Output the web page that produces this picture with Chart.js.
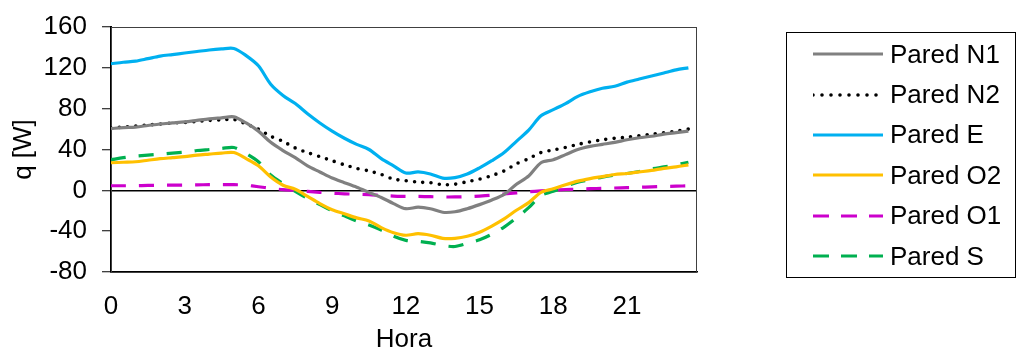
<!DOCTYPE html>
<html lang="es">
<head>
    <meta charset="UTF-8">
    <title>q [W] por hora</title>
    <script src="https://cdn.jsdelivr.net/npm/chart.js"></script>
    <style>
        body { margin: 0; background: #fff; }
        #wrap { position: relative; width: 1017px; height: 349px; }
        #legend {
            position: absolute; left: 786px; top: 32px; width: 228px; height: 243px;
            border: 1.5px solid #000; box-sizing: content-box;
            font-family: 'Liberation Sans', Arial, sans-serif; font-size: 26px; color: #000;
            padding-top: 1px;
        }
        #legend .row { display: flex; align-items: center; height: 40.4px; padding-left: 26px; }
        #legend svg { width: 70px; height: 8px; margin-right: 7px; flex: none; }
    </style>
</head>
<body>
    <div id="wrap">
        <canvas id="myChart"></canvas>
        <div id="legend"></div>
    </div>

    <script>
        // horas (cada media hora)
        const hours = [0, 0.5, 1, 1.5, 2, 2.5, 3, 3.5, 4, 4.5, 5, 5.5, 6, 6.5, 7, 7.5, 8, 8.5, 9, 9.5,
            10, 10.5, 11, 11.5, 12, 12.5, 13, 13.5, 14, 14.5, 15, 15.5, 16, 16.5, 17, 17.5, 18, 18.5, 19, 19.5,
            20, 20.5, 21, 21.5, 22, 22.5, 23, 23.5];

        const paredN1 = [60.5, 61.5, 62, 63.5, 65, 66, 67, 68.5, 70, 71, 72, 66, 58, 47, 39, 32, 24, 18, 12, 7.5,
            3, -2, -7, -13, -18, -16.5, -18, -21.5, -21, -18, -14, -9.5, -4, 6, 14, 27, 30, 35, 40, 43,
            45, 47, 49.5, 51.5, 53, 55, 56.5, 58];
        const paredN2 = [61, 62, 63, 64, 65, 66, 66.5, 67.5, 68.5, 69, 69.5, 65, 60, 53, 48, 41.5, 37, 33, 29, 25,
            21.5, 19, 15.5, 11, 9.5, 8, 7.5, 5.5, 6, 8.5, 11, 14.5, 19, 26, 31, 37, 39.5, 42, 45, 47.5,
            49.5, 51, 52, 53.5, 55, 56.5, 58, 60];
        const paredE = [124, 125.5, 126.5, 129, 131.5, 133, 134.5, 136, 137.5, 138.5, 139, 132, 122, 104, 93, 85, 75, 66, 58, 51,
            45, 40, 31, 24, 17, 18, 16, 12, 12.5, 16, 22, 29, 37, 48, 59, 73, 79, 85, 92, 96.5,
            100, 102, 106, 109, 112, 115, 118, 120];
        const paredO2 = [27, 27.5, 28, 29.5, 31, 32, 33, 34.5, 35.5, 36.5, 37, 31, 24, 13, 5, 1, -6, -13, -19, -23,
            -27, -30, -36.5, -41.5, -44, -42.5, -44, -47, -47, -45, -41, -35, -28, -19.5, -12, -2, 1.5, 5.5, 9, 11.5,
            13.5, 15.5, 16.5, 18, 19.5, 21.5, 23, 25];
        const paredO1 = [4.5, 4.5, 4.6, 4.8, 5, 5.1, 5.2, 5.4, 5.5, 5.6, 5.6, 5, 3.5, 2, 0.7, 0, -1, -2, -2.8, -3.4,
            -3.8, -4.2, -5, -5.6, -6, -6, -6.2, -6.5, -6.5, -6.2, -5.6, -4.8, -3.6, -2.5, -1.4, -0.5, 0.2, 0.8, 1.2, 1.6,
            2, 2.3, 2.6, 3, 3.4, 3.8, 4.1, 4.4];
        const paredS = [30, 32, 33.5, 34.5, 35.5, 36.5, 37.5, 39, 40, 41, 42, 36, 28, 15, 6.5, -1, -8, -14, -20, -25,
            -30, -34, -39, -45, -49, -50, -51.5, -54, -55, -52, -48.5, -43, -36, -27, -17, -5, -1, 4, 8, 10.5,
            13, 15, 16.5, 18.5, 21, 23, 25, 27.5];

        const FONT = "'Liberation Sans', Arial, sans-serif";

        function pts(arr) {
            return hours.map((h, i) => ({ x: h, y: arr[i] }));
        }

        function serie(label, arr, color, dash, width, cap) {
            return {
                label: label,
                data: pts(arr),
                borderColor: color,
                backgroundColor: color,
                borderWidth: width || 3.2,
                borderDash: dash || [],
                borderCapStyle: cap || 'butt',
                borderJoinStyle: 'round',
                pointRadius: 0,
                tension: 0.3,
                fill: false
            };
        }

        // borde del area de trazado
        const plotFrame = {
            id: 'plotFrame',
            beforeDatasetsDraw(chart) {
                const a = chart.chartArea;
                const c = chart.ctx;
                c.save();
                c.strokeStyle = '#404040';
                c.lineWidth = 1;
                c.strokeRect(a.left + 0.5, a.top + 0.5, a.right - a.left - 1, a.bottom - a.top);
                c.restore();
            }
        };

        const ctx = document.getElementById("myChart").getContext("2d");
        const chart = new Chart(ctx, {
            type: "line",
            data: {
                datasets: [
                    serie("Pared N1", paredN1, "#808080"),
                    serie("Pared N2", paredN2, "#000000", [0, 8.3], 3.6, 'round'),
                    serie("Pared E", paredE, "#00B0F0"),
                    serie("Pared O2", paredO2, "#FFC000"),
                    serie("Pared O1", paredO1, "#CC00CC", [15, 13]),
                    serie("Pared S", paredS, "#00B050", [15, 13])
                ]
            },
            options: {
                responsive: true,
                maintainAspectRatio: false,
                animation: false,
                layout: { padding: { top: 27, right: 320, bottom: 0, left: 0 } },
                plugins: {
                    tooltip: { enabled: false },
                    legend: { display: false }
                },
                scales: {
                    x: {
                        type: 'linear',
                        min: 0,
                        max: 23.85,
                        afterFit: (s) => { s.height = 77; },
                        ticks: {
                            stepSize: 3,
                            includeBounds: false,
                            autoSkip: false,
                            maxRotation: 0,
                            padding: 19,
                            color: '#000',
                            font: { family: FONT, size: 26 }
                        },
                        grid: { display: false, drawTicks: false },
                        border: { display: true, color: '#000', width: 1.5 },
                        title: {
                            display: true,
                            text: 'Hora',
                            color: '#000',
                            padding: { top: 0, bottom: 0 },
                            font: { family: FONT, size: 26, lineHeight: 0.7 }
                        }
                    },
                    y: {
                        min: -80,
                        max: 160,
                        afterFit: (s) => { s.width = 111; s.paddingTop = 0; s.paddingBottom = 0; },
                        ticks: {
                            stepSize: 40,
                            padding: 15,
                            color: '#000',
                            font: { family: FONT, size: 26 }
                        },
                        grid: {
                            color: (c) => (c.tick && c.tick.value === 0 ? '#000' : 'rgba(0,0,0,0)'),
                            lineWidth: 1.5,
                            tickColor: '#000',
                            tickWidth: 1,
                            tickLength: 9
                        },
                        border: { display: true, color: '#000', width: 2 },
                        title: {
                            display: true,
                            text: 'q [W]',
                            color: '#000',
                            padding: { top: 8, bottom: 0 },
                            font: { family: FONT, size: 26 }
                        }
                    }
                }
            },
            plugins: [plotFrame]
        });

        // leyenda en HTML a partir de los datasets
        const legendBox = document.getElementById("legend");
        chart.data.datasets.forEach(ds => {
            const row = document.createElement("div");
            row.className = "row";
            const legDash = ds.borderCapStyle === 'round' ? "0 9" : (ds.borderDash.length ? "16 12" : "none");
            row.innerHTML =
                `<svg viewBox="0 0 70 8"><line x1="0" y1="4" x2="70" y2="4" stroke="${ds.borderColor}" ` +
                `stroke-width="${ds.borderWidth}" stroke-linecap="${ds.borderCapStyle === 'round' ? 'round' : 'butt'}" ` +
                `stroke-dasharray="${legDash}" /></svg><span>${ds.label}</span>`;
            legendBox.appendChild(row);
        });
    </script>
</body>
</html>
